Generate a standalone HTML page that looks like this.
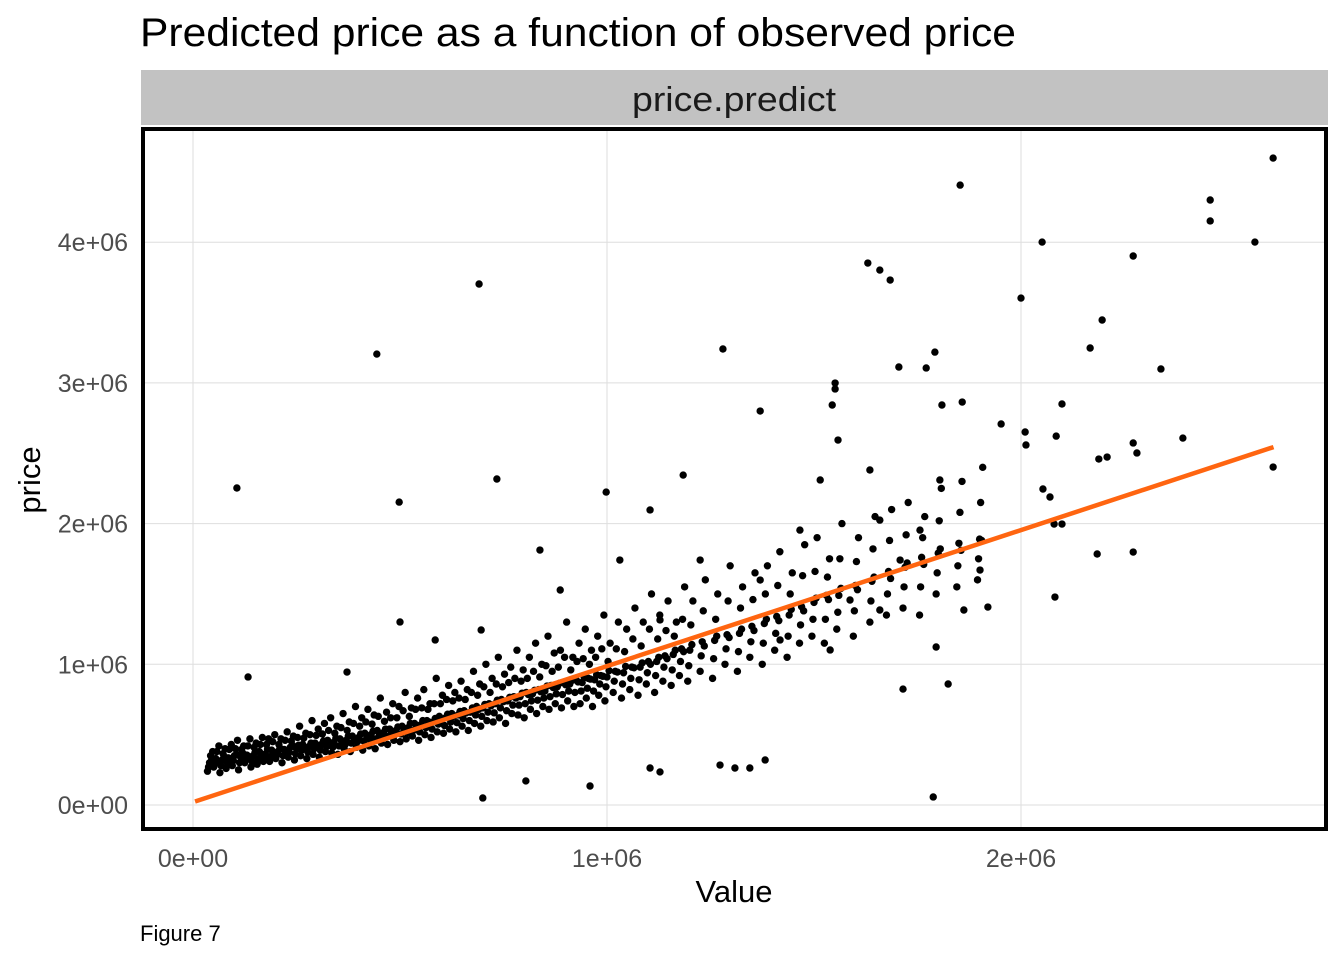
<!DOCTYPE html>
<html><head><meta charset="utf-8"><style>
body{margin:0;background:#fff;width:1344px;height:960px;overflow:hidden;font-family:"Liberation Sans",Arial,sans-serif}
</style></head><body>
<svg id="chart" width="1344" height="960" xmlns="http://www.w3.org/2000/svg" font-family="Liberation Sans, Arial, sans-serif">
<text x="140" y="46" font-size="40" textLength="876" lengthAdjust="spacingAndGlyphs" fill="#000">Predicted price as a function of observed price</text>
<rect x="141" y="70" width="1187" height="55" fill="#c2c2c2"/>
<text x="734" y="111" font-size="34" text-anchor="middle" textLength="204" lengthAdjust="spacingAndGlyphs" fill="#1a1a1a">price.predict</text>
<g id="grid"></g>
<g id="pts"></g>
<g id="fit"></g>
<rect x="143" y="129" width="1183" height="700" fill="none" stroke="#000" stroke-width="4"/>
<g id="ticks"></g>
<text x="734" y="902" font-size="31" text-anchor="middle" fill="#000">Value</text>
<text x="40" y="480" font-size="31" text-anchor="middle" fill="#000" transform="rotate(-90 40 480)">price</text>
<text x="140" y="941" font-size="22" fill="#000">Figure 7</text>
</svg>
<script>
const xTicks=[0,1000,2000];
const xTickLabels=["0e+00","1e+06","2e+06"];
const yTicks=[0,1000,2000,3000,4000];
const yTickLabels=["0e+00","1e+06","2e+06","3e+06","4e+06"];
const fitIntercept=[20];
const fitSlope=[0.967];
const fitRange=[5,2610];
const coreX=[40,55,70,85,100,115,130,145,160,175,190,205,220,235,250,265,280,295,310,325,340,355,370,385,400,415,430,445,460,475,490,505,520,535,550,565,580,595,610,625,640,655,670,685,700,715,730,745,760,775,790,805,820,835,850,865,880,895,910,925,940,955,970,985,1000,1020,1040,1060,1080,1100,1120,1140,1160,1180,1200,1230,1260,1290,1320,1350,1380,1410,1440,1470,1500,1530,1560,1600,1640,1680,1720,1760,1800,1850,1900];
const coreYa=[300,330,320,335,350,340,355,350,380,360,390,380,395,410,400,430,415,440,430,460,445,470,460,490,480,510,500,530,515,540,530,560,550,580,570,600,590,630,620,650,640,670,660,700,690,720,720,750,740,770,770,800,790,820,810,850,840,870,860,890,870,900,890,920,910,950,940,980,980,1020,1020,1060,1070,1110,1100,1160,1170,1210,1220,1270,1290,1340,1350,1410,1440,1490,1490,1560,1590,1660,1690,1760,1790,1860,1890];
const coreYb=[380,420,400,430,460,420,470,440,480,470,500,470,520,490,560,510,600,540,580,620,560,650,590,700,620,680,640,760,660,720,700,800,690,760,820,720,900,780,850,800,880,820,950,860,1000,900,1050,930,980,1100,960,1050,1150,1000,1200,1080,1100,1300,1050,1150,1250,1100,1200,1350,1150,1300,1250,1400,1300,1500,1350,1450,1300,1550,1450,1600,1500,1700,1550,1650,1700,1800,1650,1850,1900,1750,2000,1900,2050,2100,2150,2050,2250,2300,2400];
const coreYc=[240,270,230,260,280,250,300,270,290,310,310,330,300,340,320,350,330,360,340,380,370,360,400,380,410,390,420,400,440,430,460,450,470,490,460,500,480,520,510,540,520,560,530,580,560,600,590,620,580,650,640,620,680,650,700,680,720,690,740,700,720,760,700,780,740,800,760,820,780,860,800,880,850,920,880,950,900,1000,950,1050,1000,1100,1050,1150,1200,1150,1250,1200,1300,1350,1400,1350,1500,1550,1600];
const coreYd=[320,310,345,330,360,370,340,375,365,395,370,405,385,425,425,405,440,420,455,445,475,455,490,470,505,490,525,505,540,520,555,540,580,560,600,590,615,605,645,630,665,655,690,680,715,705,745,735,765,760,795,785,815,805,845,835,865,855,885,875,905,895,925,915,955,945,985,975,1010,1000,1050,1040,1100,1090,1140,1130,1200,1190,1250,1240,1320,1310,1390,1380,1470,1460,1540,1530,1620,1610,1720,1710,1820,1810,1880];
const coreYe=[350,380,365,395,400,395,420,410,430,430,450,430,460,455,480,475,500,495,505,530,510,550,530,580,560,590,575,630,595,620,620,670,630,680,690,680,720,720,750,740,760,750,800,780,840,800,860,840,870,900,880,900,950,910,990,950,980,1050,960,1020,1040,1000,1050,1110,1020,1110,1090,1180,1130,1250,1180,1240,1200,1320,1280,1380,1320,1450,1400,1460,1500,1560,1500,1630,1660,1620,1750,1730,1820,1880,1920,1900,2020,2080,2150];
const coreYf=[270,295,280,300,315,300,325,310,330,340,345,355,350,375,365,390,375,400,390,415,410,420,430,440,450,455,465,470,480,490,500,505,515,530,520,550,540,575,565,590,585,615,600,640,630,660,655,690,670,710,710,720,740,745,760,770,790,785,810,800,810,830,810,860,840,880,860,900,890,940,920,980,960,1020,990,1060,1040,1110,1090,1160,1150,1220,1200,1280,1320,1320,1370,1380,1450,1500,1550,1550,1650,1700,1750];
const outX=[2609,1853,2457,2457,2565,2051,1630,1659,1684,2271,691,2000,2196,2167,1280,444,1792,1705,1771,2338,1551,1551,1544,1370,2099,1858,1809,1952,2010,2391,2271,2012,2085,2280,1558,998,2609,106,734,1184,498,2208,2188,2053,2070,2080,2099,2184,2271,2082,1920,1862,1795,1715,1824,500,133,700,959,804,1104,1273,1309,1345,1382,1128,1788,696,585,372,1635,1659,1708,1466,1370,1515,1756,1804,1901,1587,1225,1104,1031,887,838,1128,1418,1539,1659];
const outY=[4598,4406,4300,4151,4001,4001,3852,3802,3731,3902,3703,3603,3447,3248,3241,3205,3219,3113,3106,3099,2999,2957,2843,2800,2850,2864,2843,2708,2651,2608,2573,2559,2622,2502,2594,2224,2402,2253,2317,2345,2153,2473,2459,2246,2189,1997,1997,1784,1798,1478,1407,1386,1123,824,860,1301,910,50,135,171,263,284,263,263,320,235,57,1244,1173,945,2381,2025,1741,1954,1599,2310,1954,2310,1670,1457,1741,2097,1741,1528,1812,1315,1173,1102,1386];

const NS="http://www.w3.org/2000/svg";
const sx=v=>193+v*0.414;
const sy=v=>805-v*0.1407;
function mk(tag,attrs,parent){const e=document.createElementNS(NS,tag);for(const k in attrs)e.setAttribute(k,attrs[k]);document.getElementById(parent).appendChild(e);return e;}
xTicks.forEach((t,i)=>{
  const g=mk('line',{x1:sx(t),x2:sx(t),y1:130,y2:828,stroke:'#dedede','stroke-width':1},'grid');
  
  
  const l=mk('text',{x:sx(t),y:867,'font-size':25,'text-anchor':'middle',fill:'#4d4d4d'},'ticks');
  l.textContent=xTickLabels[i];
  
  
});
yTicks.forEach((t,i)=>{
  const g=mk('line',{x1:145,x2:1324,y1:sy(t),y2:sy(t),stroke:'#dedede','stroke-width':1},'grid');
  
  
  const l=mk('text',{x:128,y:sy(t)+9,'font-size':25,'text-anchor':'end',fill:'#4d4d4d'},'ticks');
  l.textContent=yTickLabels[i];
  
  
});
function dot(x,y){
  const c=mk('circle',{cx:sx(x),cy:sy(y),r:3.7,fill:'#000'},'pts');
  
  
}
coreX.forEach((x,i)=>{
  dot(x,coreYa[i]);dot(x+7.5,coreYb[i]);dot(x-5,coreYc[i]);
  dot(x+5,coreYd[i]);dot(x+2.5,coreYe[i]);dot(x-2.5,coreYf[i]);
});
outX.forEach((x,i)=>dot(x,outY[i]));
const ln=mk('line',{x1:sx(fitRange[0]),y1:sy(fitIntercept[0]+fitSlope[0]*fitRange[0]),x2:sx(fitRange[1]),y2:sy(fitIntercept[0]+fitSlope[0]*fitRange[1]),stroke:'#ff6510','stroke-width':4.5},'fit');


</script>
</body></html>
